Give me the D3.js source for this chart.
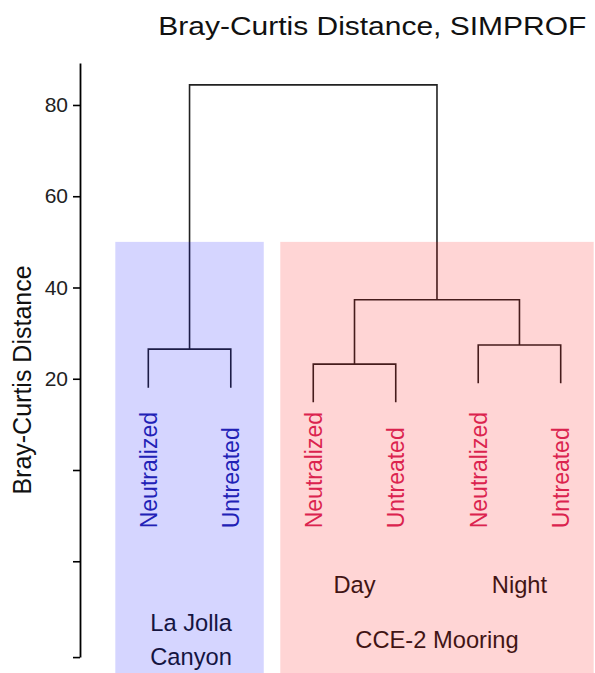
<!DOCTYPE html>
<html>
<head>
<meta charset="utf-8">
<script src="https://cdn.jsdelivr.net/npm/d3@7"></script>
<style>
  html, body { margin: 0; padding: 0; background: #fff; }
  svg { display: block; font-family: "Liberation Sans", Arial, Helvetica, sans-serif; }
</style>
</head>
<body>
<svg id="chart" width="595" height="673"></svg>
<script>
// ---- data ----
const leafIds = ["LJ_N", "LJ_U", "Day_N", "Day_U", "Night_N", "Night_U"];
const leafLabels = ["Neutralized", "Untreated", "Neutralized", "Untreated", "Neutralized", "Untreated"];
const leafHeights = [18.0, 18.0, 14.85, 14.85, 19.0, 19.0];
const leafSite = ["LJ", "LJ", "CCE", "CCE", "CCE", "CCE"];

const mergeIds = ["LJ", "Day", "Night", "CCE", "root"];
const mergeChildren = [["LJ_N", "LJ_U"], ["Day_N", "Day_U"], ["Night_N", "Night_U"], ["Day", "Night"], ["LJ", "CCE"]];
const mergeHeights = [26.5, 23.2, 27.4, 37.3, 84.4];

const groupLabels = ["La Jolla Canyon", "CCE-2 Mooring"];
const groupFirst = [0, 2];
const groupLast = [1, 5];
const groupTop = [50, 50];
const subLabels = ["Day", "Night"];
const subFirst = [2, 4];
const subLast = [3, 5];

const tickValues = [-41, -20, 0, 20, 40, 60, 80];
const tickLabels = ["", "", "", "20", "40", "60", "80"];
const yDomain = [-41, 89.2];

// ---- scales ----
const svg = d3.select("#chart");
const x = d3.scalePoint().domain(leafIds).range([148.3, 560.7]);
const y = d3.scaleLinear().domain(yDomain).range([470 + 41 * 4.563, 63]);

// node positions
const pos = {};
leafIds.forEach((id, i) => { pos[id] = { x: x(id), h: leafHeights[i] }; });
mergeIds.forEach((id, i) => {
  const c = mergeChildren[i];
  pos[id] = { x: (pos[c[0]].x + pos[c[1]].x) / 2, h: mergeHeights[i] };
});

// ---- axis ----
const axis = d3.axisLeft(y).tickValues(tickValues)
  .tickFormat((d, i) => tickLabels[i]).tickSize(7).tickPadding(5).tickSizeOuter(0);
const gA = svg.append("g").attr("transform", "translate(80,0)").call(axis);
gA.select(".domain").attr("stroke", "#000").attr("stroke-width", 1.8);
gA.selectAll(".tick line").attr("stroke", "#000").attr("stroke-width", 1.6);
gA.selectAll(".tick text").attr("font-size", 21).attr("fill", "#222")
  .attr("font-family", "Liberation Sans, Arial, sans-serif");

svg.append("text")
  .attr("transform", `translate(31,${380}) rotate(-90)`)
  .attr("text-anchor", "middle")
  .attr("font-size", 25).attr("fill", "#111")
  .text("Bray-Curtis Distance");

// title
svg.append("text")
  .attr("x", 158.3).attr("y", 35)
  .attr("font-size", 26).attr("fill", "#111")
  .attr("textLength", 428).attr("lengthAdjust", "spacingAndGlyphs")
  .text("Bray-Curtis Distance, SIMPROF");

// ---- dendrogram ----
const gT = svg.append("g").attr("fill", "none").attr("stroke", "#222").attr("stroke-width", 1.6);
mergeIds.forEach((id, i) => {
  const p = pos[id];
  const [a, b] = mergeChildren[i].map(c => pos[c]);
  gT.append("path").attr("d",
    `M${a.x},${y(a.h)}V${y(p.h)}H${b.x}V${y(b.h)}`);
});

// leaf labels
leafIds.forEach((id, i) => {
  svg.append("text")
    .attr("transform", `translate(${x(id)},528.3) rotate(-90)`)
    .attr("x", 0).attr("y", 8.3)
    .attr("font-size", 23)
    .attr("fill", leafSite[i] === "LJ" ? "#2828a8" : "#d42a5e")
    .text(leafLabels[i]);
});

// sub labels
subLabels.forEach((t, i) => {
  const cx = (x(leafIds[subFirst[i]]) + x(leafIds[subLast[i]])) / 2;
  svg.append("text").attr("x", cx).attr("y", 593.3)
    .attr("text-anchor", "middle").attr("font-size", 23.7).attr("fill", "#1a1a1a").text(t);
});

// group labels
{
  const cx0 = (x(leafIds[groupFirst[0]]) + x(leafIds[groupLast[0]])) / 2 + 1.5;
  const words = groupLabels[0].split(" ");
  svg.append("text").attr("x", cx0).attr("y", 630.7)
    .attr("text-anchor", "middle").attr("font-size", 23.7).attr("fill", "#1a1a1a")
    .text(words.slice(0, 2).join(" "));
  svg.append("text").attr("x", cx0).attr("y", 664.5)
    .attr("text-anchor", "middle").attr("font-size", 23.7).attr("fill", "#1a1a1a")
    .text(words.slice(2).join(" "));
  const cx1 = (x(leafIds[groupFirst[1]]) + x(leafIds[groupLast[1]])) / 2;
  svg.append("text").attr("x", cx1).attr("y", 648.3)
    .attr("text-anchor", "middle").attr("font-size", 23.7).attr("fill", "#1a1a1a")
    .text(groupLabels[1]);
}

// overlay rectangles
const step = x.step();
const rectFill = ["rgb(0,0,255)", "rgb(255,0,0)"];
groupLabels.forEach((g, i) => {
  const x0 = x(leafIds[groupFirst[i]]) - 0.4 * step;
  const x1 = x(leafIds[groupLast[i]]) + 0.4 * step;
  svg.append("rect")
    .attr("x", x0).attr("y", y(groupTop[i]))
    .attr("width", x1 - x0).attr("height", 673 - y(groupTop[i]))
    .attr("fill", rectFill[i]).attr("fill-opacity", 0.165);
});
</script>
</body>
</html>
